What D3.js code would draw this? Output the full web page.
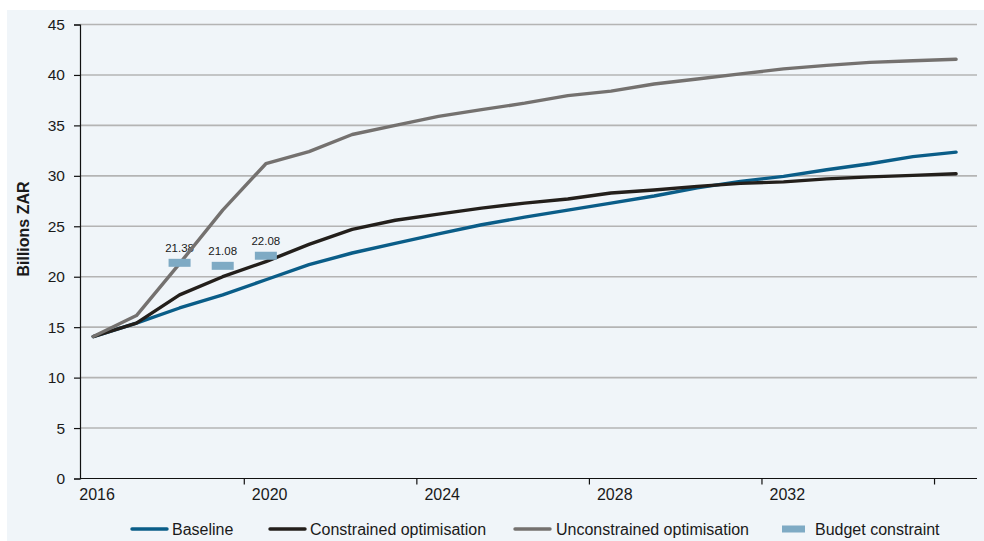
<!DOCTYPE html>
<html>
<head>
<meta charset="utf-8">
<script src="https://cdn.jsdelivr.net/npm/d3@7"></script>
<style>
  html, body { margin: 0; padding: 0; background: #ffffff; }
  svg { display: block; font-family: "Liberation Sans", Arial, Helvetica, sans-serif; }
</style>
</head>
<body>
<svg id="chart" width="984" height="541"></svg>
<script>
// Years on the horizontal axis
const years = d3.range(2016, 2037);

// Spending paths, billions of rand
const baseline = [14.07, 15.4, 16.9, 18.2, 19.7, 21.2, 22.35, 23.3, 24.25, 25.15, 25.9,
                  26.6, 27.3, 28.0, 28.8, 29.45, 29.95, 30.6, 31.2, 31.9, 32.35];
const constrained = [14.07, 15.4, 18.2, 20.0, 21.5, 23.2, 24.7, 25.6, 26.2, 26.8, 27.3,
                     27.7, 28.3, 28.6, 28.95, 29.25, 29.4, 29.7, 29.9, 30.05, 30.2];
const unconstrained = [14.07, 16.15, 21.3, 26.6, 31.2, 32.4, 34.1, 35.0, 35.9, 36.56, 37.2,
                       37.95, 38.4, 39.1, 39.6, 40.1, 40.6, 40.95, 41.25, 41.4, 41.55];

// Budget ceilings for the first years
const budgetYears = [2018, 2019, 2020];
const budgetValues = [21.38, 21.08, 22.08];

// Axis labels
const yTicks = [0, 5, 10, 15, 20, 25, 30, 35, 40, 45];
const xLabelYears = [2016, 2020, 2024, 2028, 2032];
const xTickYears = [2020, 2024, 2028, 2032, 2036];

const seriesNames = ["Baseline", "Constrained optimisation", "Unconstrained optimisation"];
const seriesColors = ["#0a5d88", "#231f1b", "#74716f"];
const budgetColor = "#7eaac4";

const svg = d3.select("#chart");

// Panel background
svg.append("rect").attr("x", 7).attr("y", 10).attr("width", 977).attr("height", 531)
  .attr("fill", "#f0f5f9");

const plotLeft = 80, plotRight = 977;
const x = d3.scaleLinear().domain([2016, 2036]).range([93.3, 956.1]);
const y = d3.scaleLinear().domain([0, 45]).range([478.5, 24.5]);
const step = x(2017) - x(2016);

// Horizontal gridlines
svg.append("g").selectAll("line").data(yTicks.filter(d => d > 0)).join("line")
  .attr("x1", plotLeft).attr("x2", plotRight)
  .attr("y1", d => y(d)).attr("y2", d => y(d))
  .attr("stroke", "#b4b4b4").attr("stroke-width", 1.6);

// Y axis
const yAxis = svg.append("g").attr("transform", `translate(${plotLeft},0)`)
  .call(d3.axisLeft(y).tickValues(yTicks).tickSize(6).tickPadding(9));
yAxis.select(".domain").attr("stroke", "#111").attr("stroke-width", 1.2);
yAxis.selectAll(".tick line").attr("stroke", "#111").attr("stroke-width", 1.2);
yAxis.selectAll(".tick text").attr("font-size", 15.5).attr("fill", "#1a1a1a")
  .attr("font-family", "Liberation Sans, Arial, sans-serif");

// X axis baseline
const xAxis = svg.append("g");
xAxis.append("line").attr("x1", plotLeft).attr("x2", plotRight)
  .attr("y1", y(0)).attr("y2", y(0)).attr("stroke", "#111").attr("stroke-width", 1.2);
xAxis.selectAll(".xtick").data(xTickYears).join("line").attr("class", "xtick")
  .attr("x1", d => x(d) - step / 2).attr("x2", d => x(d) - step / 2)
  .attr("y1", y(0)).attr("y2", y(0) + 6).attr("stroke", "#111").attr("stroke-width", 1.2);
xAxis.selectAll(".xlabel").data(xLabelYears).join("text").attr("class", "xlabel")
  .attr("x", d => x(d) - 14).attr("y", 500)
  .attr("font-size", 16).attr("fill", "#1a1a1a")
  .text(d => d);

// Y axis title
svg.append("text")
  .attr("transform", `translate(29,229) rotate(-90)`)
  .attr("text-anchor", "middle").attr("font-size", 16).attr("font-weight", "bold")
  .attr("fill", "#1a1a1a").text("Billions ZAR");

// Budget value labels
svg.append("g").selectAll("text").data(budgetYears).join("text")
  .attr("x", d => x(d)).attr("y", (d, i) => y(budgetValues[i]) - 11)
  .attr("text-anchor", "middle").attr("font-size", 11.5).attr("fill", "#1a1a1a")
  .text((d, i) => budgetValues[i].toFixed(2));

// Lines
const line = d3.line().x((d, i) => x(years[i])).y(d => y(d));
[baseline, constrained, unconstrained].forEach((vals, k) => {
  svg.append("path").datum(vals).attr("d", line)
    .attr("fill", "none").attr("stroke", seriesColors[k])
    .attr("stroke-width", 3.4).attr("stroke-linejoin", "round").attr("stroke-linecap", "round");
});

// Budget constraint markers
svg.append("g").selectAll("rect").data(budgetYears).join("rect")
  .attr("x", d => x(d) - 11).attr("y", (d, i) => y(budgetValues[i]) - 4)
  .attr("width", 22).attr("height", 8).attr("fill", budgetColor);

// Legend
const legend = svg.append("g");
const lineItems = [
  { x0: 132, tx: 172 },
  { x0: 270, tx: 310 },
  { x0: 515, tx: 556 }
];
lineItems.forEach((it, k) => {
  legend.append("line").attr("x1", it.x0).attr("x2", it.x0 + 35)
    .attr("y1", 529).attr("y2", 529).attr("stroke", seriesColors[k])
    .attr("stroke-width", 3.4).attr("stroke-linecap", "round");
  legend.append("text").attr("x", it.tx).attr("y", 535)
    .attr("font-size", 16).attr("fill", "#1a1a1a").text(seriesNames[k]);
});
legend.append("rect").attr("x", 782).attr("y", 525.5).attr("width", 23).attr("height", 7)
  .attr("fill", budgetColor);
legend.append("text").attr("x", 815).attr("y", 535)
  .attr("font-size", 16).attr("fill", "#1a1a1a").text("Budget constraint");
</script>
</body>
</html>
